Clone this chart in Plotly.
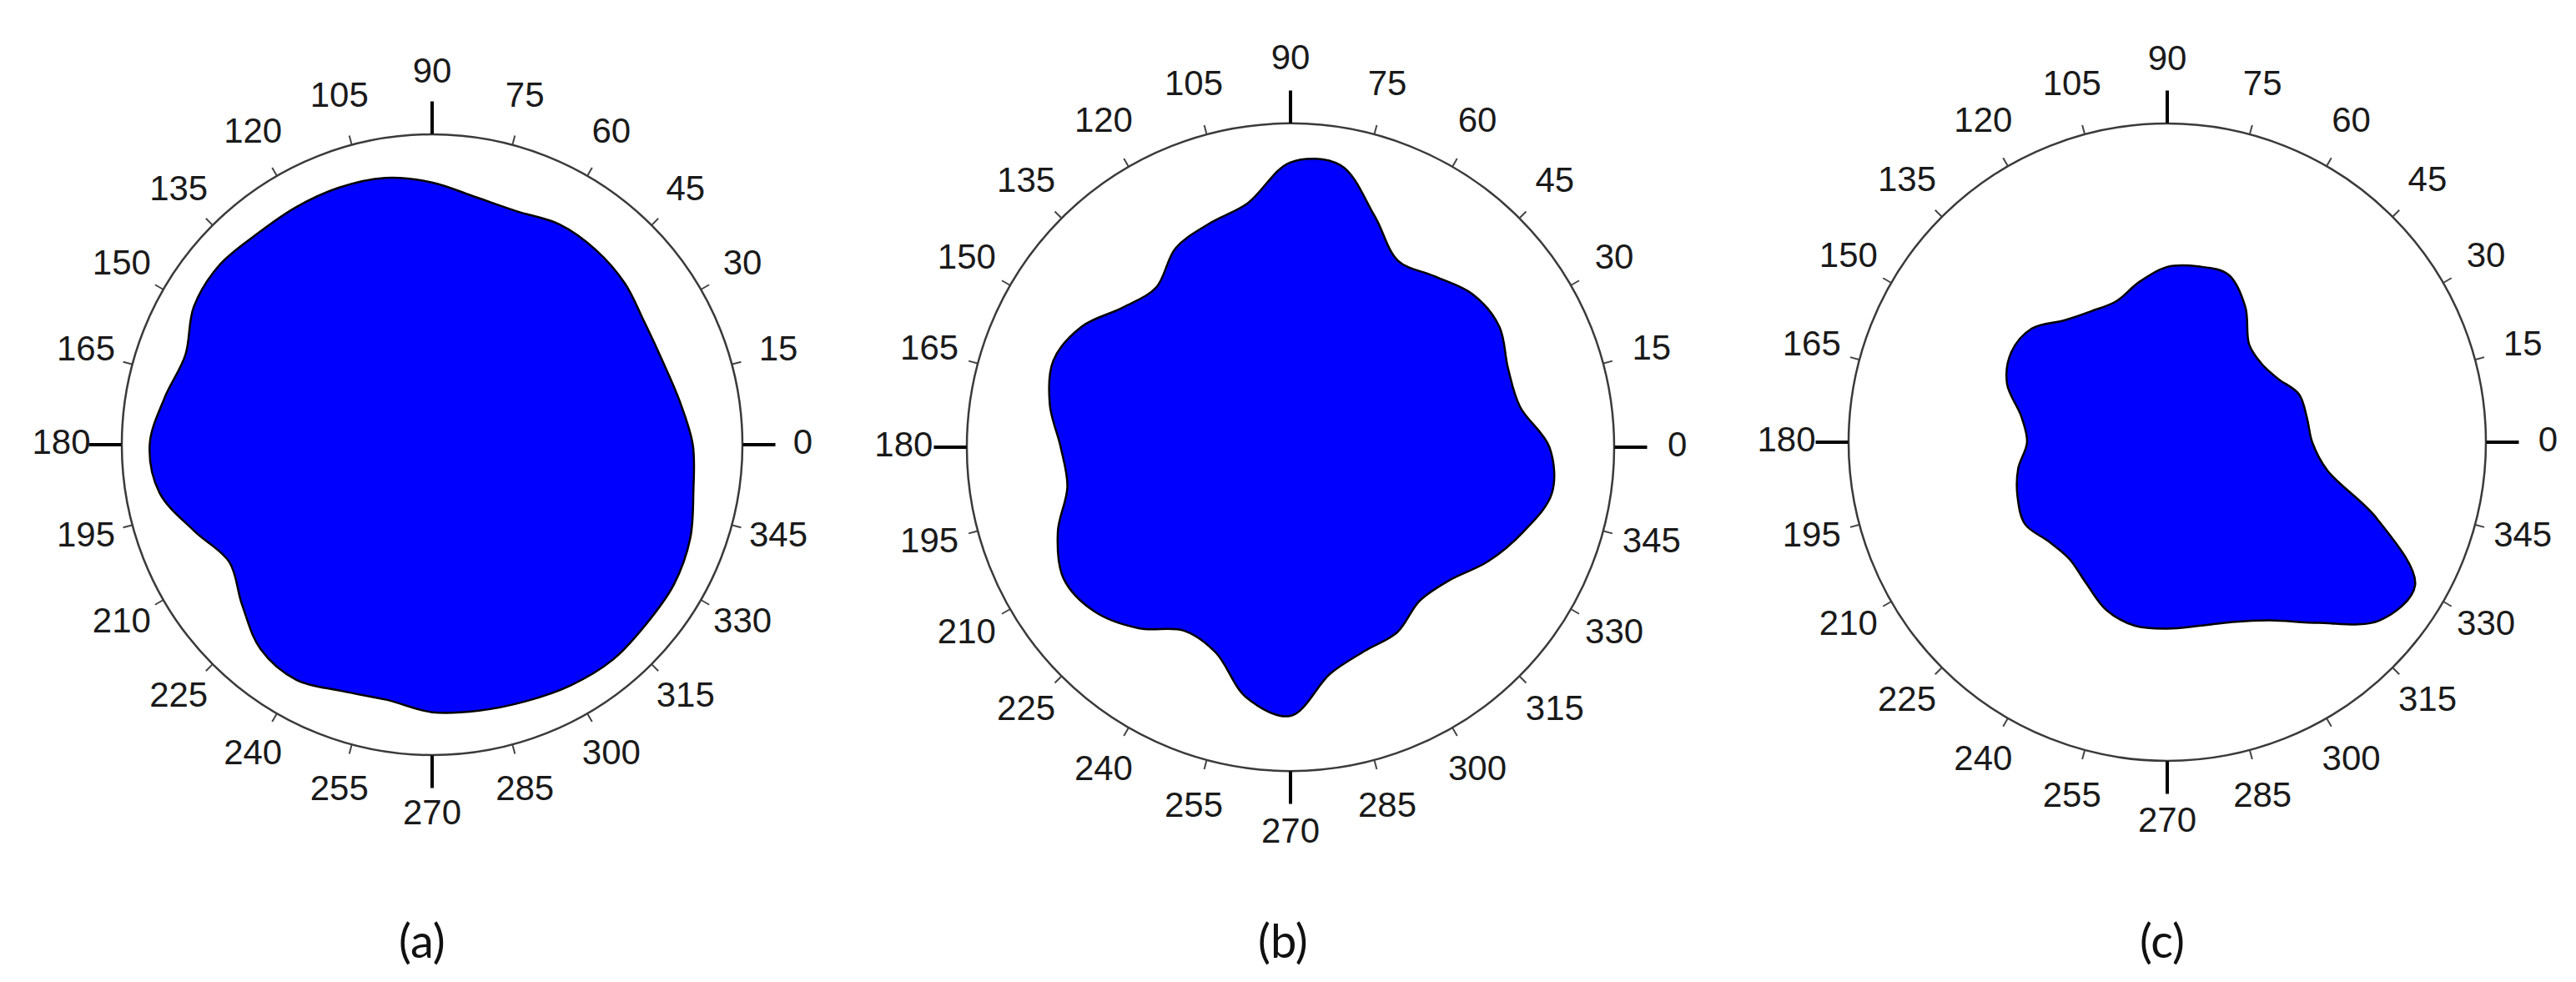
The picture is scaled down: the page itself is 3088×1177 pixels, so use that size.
import plotly.graph_objects as go

W, H = 3088, 1177

# ---- data ----
theta_deg = list(range(0, 360, 10))
r_a = [0.84, 0.81, 0.79, 0.79, 0.81, 0.82, 0.82, 0.80, 0.81, 0.845, 0.873, 0.881,
       0.882, 0.883, 0.897, 0.887, 0.846, 0.875, 0.91, 0.892, 0.815, 0.755, 0.80, 0.86,
       0.875, 0.845, 0.835, 0.862, 0.87, 0.88, 0.895, 0.905, 0.90, 0.90, 0.885, 0.855]
r_b = [0.80, 0.72, 0.715, 0.745, 0.735, 0.69, 0.665, 0.76, 0.885, 0.88, 0.765, 0.735,
       0.71, 0.645, 0.673, 0.745, 0.78, 0.755, 0.71, 0.70, 0.765, 0.81, 0.79, 0.73,
       0.655, 0.675, 0.785, 0.83, 0.71, 0.67, 0.66, 0.62, 0.64, 0.705, 0.765, 0.82]
r_c = [0.455, 0.445, 0.44, 0.40, 0.385, 0.40, 0.49, 0.56, 0.56, 0.55, 0.51, 0.47,
       0.475, 0.50, 0.555, 0.565, 0.535, 0.465, 0.44, 0.475, 0.50, 0.515, 0.485, 0.478,
       0.51, 0.56, 0.585, 0.585, 0.585, 0.60, 0.645, 0.74, 0.87, 0.898, 0.70, 0.51]
panel_labels = ["(a)", "(b)", "(c)"]
tick_angles = list(range(0, 360, 15))
major_angles = [0, 90, 180, 270]
minor_angles = [a for a in tick_angles if a not in major_angles]
tick_labels = [str(a) for a in tick_angles]

# ---- layout geometry (pixels) ----
geom = [  # cx, cy, R, label_x
    (510, 525, 372, 498),
    (1539, 528, 388, 1530),
    (2590, 522, 382, 2584),
]
label_y = 1118
LABEL_SCALE = 1.25          # label layer radius relative to the plot circle
R_MINOR_LABEL = 1.155       # label distance in units of the plot circle radius
R_MAJOR_LABEL = 1.195

fig = go.Figure()
layout = dict(width=W, height=H, margin=dict(l=0, r=0, t=0, b=0),
              paper_bgcolor="white", plot_bgcolor="white", showlegend=False,
              annotations=[])

FONT = dict(family="Liberation Sans, Arial, sans-serif", size=42, color="#1a1a1a")
series = [r_a, r_b, r_c]


def dom_for(cx, cy, rad):
    return dict(x=[(cx - rad) / W, (cx + rad) / W], y=[1 - (cy + rad) / H, 1 - (cy - rad) / H])


def polar_layout(dom, bg, tv, tl, tw, tc, showline):
    return dict(
        domain=dom, bgcolor=bg,
        radialaxis=dict(visible=False, range=[0, 1]),
        angularaxis=dict(
            rotation=0, direction="counterclockwise",
            tickmode="array", tickvals=tv if tv else [0],
            ticktext=[""] * (len(tv) if tv else 1),
            ticks="outside" if tl else "", ticklen=tl if tl else 0,
            tickwidth=tw if tw else 1, tickcolor=tc, showticklabels=False,
            showgrid=False, showline=showline, linecolor="#3a3a3a", linewidth=2.5,
        ),
    )


k = 0
for i, (cx, cy, R, lx) in enumerate(geom):
    dom = dom_for(cx, cy, R)
    layers = [
        # name, tickvals, ticklen, tickwidth, tickcolor, showline, bg
        ("data", [], 0, 0, "rgba(0,0,0,0)", True, "white"),
        ("minor", minor_angles, 11, 2, "#444", False, "rgba(0,0,0,0)"),
        ("major", major_angles, 39, 4, "#000", False, "rgba(0,0,0,0)"),
    ]
    for name, tv, tl, tw, tc, showline, bg in layers:
        k += 1
        sub = "polar" if k == 1 else f"polar{k}"
        if name == "data":
            r = series[i] + [series[i][0]]
            th = theta_deg + [theta_deg[0]]
            fig.add_trace(go.Scatterpolar(
                r=r, theta=th, subplot=sub, mode="lines", fill="toself",
                fillcolor="#0000FF",
                line=dict(color="black", width=2.5, shape="spline", smoothing=1.0),
                hoverinfo="skip"))
        else:
            fig.add_trace(go.Scatterpolar(r=[0], theta=[0], subplot=sub, mode="markers",
                                          marker=dict(opacity=0, size=1), hoverinfo="skip"))
        layout[sub] = polar_layout(dom, bg, tv, tl, tw, tc, showline)

    # label layer: a larger transparent polar sharing the same centre
    k += 1
    sub = f"polar{k}"
    fig.add_trace(go.Scatterpolar(
        r=[(R_MAJOR_LABEL if a in major_angles else R_MINOR_LABEL) / LABEL_SCALE
           for a in tick_angles],
        theta=tick_angles, text=tick_labels, subplot=sub, mode="text",
        textposition="middle center", textfont=FONT, hoverinfo="skip"))
    layout[sub] = polar_layout(dom_for(cx, cy, R * LABEL_SCALE), "rgba(0,0,0,0)",
                               [], 0, 0, "rgba(0,0,0,0)", False)

    layout["annotations"].append(dict(
        text=panel_labels[i], x=lx / W, y=1 - label_y / H, xref="paper", yref="paper",
        showarrow=False, xanchor="center", yanchor="middle",
        font=dict(family="Lato, Carlito, Calibri, sans-serif", size=56, color="#111")))

fig.update_layout(**layout)
fig.write_html("out.html")
